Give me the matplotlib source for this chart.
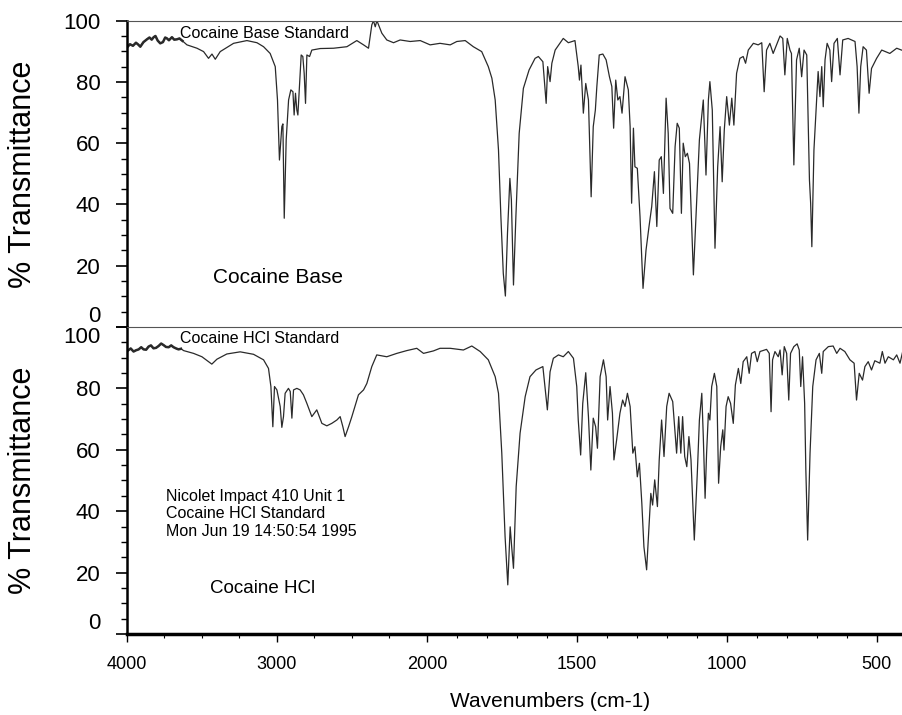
import numpy as np
import matplotlib.pyplot as plt

plt.rcParams['font.family'] = ['Liberation Sans', 'DejaVu Sans']

# spectra: wavenumber (cm-1), % transmittance
base_wn = [3995, 3980, 3960, 3940, 3925, 3911, 3890, 3867, 3850, 3835, 3822, 3810, 3795, 3778, 3760,
           3745, 3733, 3720, 3700, 3685, 3667, 3650, 3630, 3600, 3533, 3489, 3456, 3433, 3411, 3378,
           3289, 3200, 3133, 3089, 3045, 3011, 2996, 2983, 2967, 2960, 2951, 2938, 2922, 2907, 2893,
           2885, 2876, 2867, 2860, 2851, 2838, 2827, 2818, 2809, 2800, 2782, 2767, 2711, 2622, 2533,
           2467, 2422, 2389, 2367, 2356, 2344, 2333, 2300, 2267, 2222, 2178, 2111, 2044, 1989, 1956,
           1922, 1900, 1872, 1845, 1817, 1795, 1783, 1772, 1761, 1753, 1745, 1738, 1731, 1723, 1718,
           1711, 1703, 1692, 1678, 1659, 1639, 1628, 1613, 1602, 1597, 1589, 1583, 1572, 1545, 1528,
           1506, 1495, 1491, 1486, 1478, 1470, 1461, 1452, 1445, 1438, 1433, 1425, 1413, 1402, 1391,
           1383, 1377, 1370, 1363, 1356, 1349, 1339, 1328, 1322, 1317, 1311, 1306, 1298, 1289, 1279,
           1269, 1259, 1250, 1241, 1233, 1225, 1218, 1211, 1202, 1195, 1189, 1180, 1172, 1165, 1158,
           1151, 1145, 1138, 1131, 1124, 1111, 1100, 1091, 1078, 1069, 1061, 1056, 1048, 1039, 1030,
           1022, 1015, 1008, 1000, 991, 983, 976, 967, 956, 945, 937, 928, 911, 895, 883,
           875, 867, 856, 845, 836, 822, 813, 806, 798, 789, 784, 776, 767, 758, 750,
           742, 733, 724, 720, 716, 709, 700, 695, 689, 683, 678, 672, 665, 656, 650,
           642, 631, 622, 613, 595, 572, 565, 559, 553, 545, 534, 525, 517, 500, 483,
           456, 433, 417]
base_t = [91.5, 92.3, 91.8, 92.8, 92.2, 91.5, 93.0, 93.9, 94.5, 93.8, 94.6, 95.0, 93.5, 92.6, 93.0,
          94.5, 94.2, 93.6, 94.6, 93.8, 93.9, 94.2, 93.4, 92.1, 91.0, 89.9, 87.7, 89.1, 87.4, 89.9,
          92.6, 93.5, 92.8, 91.5, 89.3, 85.0, 74.1, 54.5, 65.4, 66.3, 35.5, 61.1, 74.1, 77.4, 76.8,
          69.2, 76.3, 70.8, 69.2, 77.4, 88.8, 88.3, 82.8, 73.0, 88.8, 88.3, 90.4, 90.9, 91.0, 91.5,
          93.5, 92.1, 91.0, 98.6, 100.0, 98.0, 100.0, 95.9, 93.7, 92.8, 93.7, 93.2, 93.5, 92.1, 92.6,
          92.1, 93.2, 93.5, 91.5, 89.9, 85.0, 81.2, 74.1, 57.8, 36.0, 17.5, 10.1, 30.6, 48.5, 41.5,
          13.7, 36.0, 63.2, 77.9, 83.9, 87.7, 88.3, 86.6, 73.0, 85.0, 80.1, 86.1, 90.4, 94.2, 92.8,
          93.5, 85.0, 80.6, 85.5, 69.8, 79.5, 74.1, 42.5, 65.4, 70.8, 78.5, 88.8, 89.1, 87.2, 81.7,
          78.5, 64.9, 80.6, 74.1, 75.2, 69.8, 81.7, 77.4, 65.4, 40.4, 64.9, 52.3, 51.8, 36.0, 12.6,
          25.1, 32.8, 39.3, 50.7, 32.8, 54.5, 55.6, 43.6, 74.7, 63.2, 38.7, 37.1, 58.9, 66.5, 64.9,
          37.1, 60.0, 55.6, 56.7, 53.4, 17.0, 41.5, 61.1, 74.1, 49.6, 74.1, 80.1, 70.8, 25.7, 52.3,
          65.4, 47.4, 64.3, 75.2, 65.9, 74.7, 65.9, 82.8, 87.7, 88.3, 86.1, 90.4, 92.6, 92.1, 92.8,
          76.8, 90.4, 92.6, 89.3, 91.5, 95.0, 94.2, 82.3, 94.2, 90.4, 89.3, 52.9, 87.2, 91.0, 81.7,
          90.4, 88.8, 48.0, 40.4, 26.2, 57.8, 74.1, 83.4, 75.2, 85.0, 71.9, 87.2, 92.6, 90.4, 80.1,
          92.6, 94.2, 82.3, 93.7, 94.2, 93.2, 85.0, 69.8, 85.0, 91.5, 90.4, 76.3, 84.4, 87.7, 90.4,
          89.3, 91.0, 90.4]

hcl_wn = [3994, 3975, 3956, 3940, 3922, 3905, 3889, 3872, 3856, 3840, 3823, 3806, 3789, 3772, 3756,
          3740, 3722, 3705, 3689, 3672, 3656, 3640, 3622, 3556, 3500, 3456, 3434, 3400, 3334, 3245,
          3156, 3089, 3056, 3040, 3027, 3016, 3000, 2978, 2967, 2956, 2945, 2923, 2911, 2900, 2889,
          2867, 2845, 2823, 2800, 2767, 2734, 2700, 2667, 2634, 2600, 2578, 2560, 2545, 2522, 2500,
          2456, 2422, 2400, 2367, 2334, 2267, 2200, 2134, 2067, 2022, 1978, 1956, 1922, 1878, 1850,
          1822, 1795, 1772, 1761, 1750, 1739, 1730, 1722, 1717, 1711, 1702, 1689, 1672, 1656, 1636,
          1613, 1606, 1598, 1589, 1578, 1561, 1545, 1528, 1511, 1500, 1495, 1487, 1480, 1470, 1461,
          1453, 1445, 1437, 1431, 1422, 1411, 1402, 1397, 1389, 1381, 1376, 1367, 1356, 1347, 1339,
          1331, 1322, 1313, 1306, 1298, 1291, 1283, 1276, 1267, 1259, 1253, 1247, 1240, 1231, 1225,
          1217, 1209, 1200, 1192, 1180, 1172, 1167, 1160, 1153, 1147, 1140, 1133, 1126, 1119, 1108,
          1098, 1091, 1083, 1078, 1072, 1067, 1061, 1056, 1050, 1041, 1033, 1027, 1020, 1013, 1009,
          1002, 995, 987, 978, 971, 961, 953, 945, 933, 925, 917, 906, 898, 889, 867,
          858, 852, 847, 839, 828, 822, 815, 808, 800, 793, 787, 776, 765, 758, 753,
          747, 740, 736, 730, 722, 713, 702, 691, 683, 678, 661, 645, 633, 622, 606,
          589, 575, 567, 558, 547, 539, 528, 517, 506, 489, 481, 472, 461, 444, 433,
          422, 413]
hcl_t = [92.3, 93.0, 92.0, 92.4, 92.7, 93.4, 92.7, 92.6, 93.6, 94.0, 93.05, 93.2, 93.8, 94.6, 94.1,
         93.5, 93.4, 94.0, 93.4, 93.0, 92.7, 92.9, 92.3, 91.4, 90.3, 88.7, 87.9, 89.5, 91.2, 91.9,
         91.1, 89.3, 86.5, 80.6, 67.5, 80.6, 79.5, 74.1, 67.3, 70.8, 78.4, 80.0, 79.0, 70.3, 79.5,
         80.0, 79.5, 77.9, 75.1, 70.8, 73.0, 68.6, 67.8, 68.6, 69.7, 70.8, 67.5, 64.3, 67.5, 70.8,
         77.9, 79.5, 81.6, 87.1, 90.9, 90.3, 91.4, 92.3, 93.05, 91.4, 92.2, 93.05, 93.05, 92.5, 93.8,
         92.0, 89.3, 83.8, 78.4, 58.9, 31.7, 16.0, 34.9, 28.4, 21.4, 48.0, 65.4, 77.3, 83.8, 86.0,
         87.1, 80.6, 73.0, 85.4, 89.8, 90.9, 90.3, 92.0, 89.8, 80.6, 69.7, 58.3, 75.1, 85.1, 70.8,
         53.4, 70.3, 67.5, 60.5, 83.8, 89.3, 83.8, 69.7, 80.6, 71.9, 56.7, 63.2, 71.9, 76.2, 74.1,
         78.4, 74.1, 58.9, 61.0, 51.2, 55.6, 42.6, 28.4, 20.9, 34.9, 45.8, 42.0, 50.2, 41.5, 56.7,
         69.7, 57.8, 74.1, 78.4, 75.7, 65.4, 58.9, 70.8, 58.9, 70.8, 57.8, 54.5, 64.3, 56.7, 30.6,
         52.3, 69.7, 78.4, 64.3, 44.2, 58.9, 71.9, 69.7, 80.6, 84.9, 80.6, 49.1, 61.0, 66.5, 59.9,
         74.1, 77.3, 75.1, 68.6, 81.1, 86.5, 81.6, 88.7, 90.3, 84.9, 91.4, 92.0, 88.7, 92.0, 92.7,
         91.4, 72.4, 89.3, 92.0, 90.3, 92.5, 84.4, 93.6, 91.4, 76.2, 91.4, 93.6, 94.5, 92.5, 80.6,
         90.3, 75.1, 53.4, 30.6, 58.9, 80.6, 89.3, 91.4, 84.9, 92.0, 93.6, 93.8, 91.4, 93.05, 92.0,
         89.3, 88.2, 76.2, 84.9, 82.7, 87.1, 88.7, 86.0, 89.0, 88.2, 92.0, 88.2, 90.3, 89.3, 90.9,
         88.2, 92.0]

x_major = [4000, 3000, 2000, 1500, 1000, 500]
x_minor = [3750, 3500, 3250, 2750, 2500, 2250,
           1900, 1800, 1700, 1600, 1400, 1300, 1200, 1100, 900, 800, 700, 600]
y_major = [0, 20, 40, 60, 80, 100]
y_minor = [5, 10, 15, 25, 30, 35, 45, 50, 55, 65, 70, 75, 85, 90, 95]


# spectrometer axis: scale doubles below 2000 cm-1
def fwd(w):
    w = np.asarray(w, dtype=float)
    return np.where(w > 2000, 2000 + (w - 2000) / 2, w)


def inv(u):
    u = np.asarray(u, dtype=float)
    return np.where(u > 2000, 2000 + (u - 2000) * 2, u)


fig = plt.figure(figsize=(9.03, 7.15), dpi=100)
ax_1 = fig.add_axes([0.1406, 0.5427, 0.8594, 0.4284])
ax_2 = fig.add_axes([0.1406, 0.1133, 0.8594, 0.4294])

line_col = '#2a2a2a'
ax_1.plot(base_wn, base_t, color=line_col, lw=0.9)
ax_2.plot(hcl_wn, hcl_t, color=line_col, lw=0.9)
# noisy high-wavenumber end is drawn heavier in the scan
ax_1.plot(base_wn[:23], base_t[:23], color=line_col, lw=1.8)
ax_2.plot(hcl_wn[:22], hcl_t[:22], color=line_col, lw=1.8)

for ax in (ax_1, ax_2):
    ax.set_xscale('function', functions=(fwd, inv))
    ax.set_xlim(4000, 412)
    ax.set_ylim(0, 100)
    ax.set_xticks(x_major)
    ax.set_xticks(x_minor, minor=True)
    ax.set_yticks(y_major)
    ax.set_yticks(y_minor, minor=True)
    ax.spines['right'].set_visible(False)
    ax.spines['left'].set_linewidth(1.8)
    ax.spines['top'].set_linewidth(0.8)
    ax.spines['top'].set_color('#555555')
    ax.tick_params(axis='y', which='major', direction='out', length=8, width=1.2,
                   labelsize=16, pad=11)
    ax.tick_params(axis='y', which='minor', direction='out', length=4.5, width=1.0)
    ax.set_ylabel('% Transmittance', fontsize=22)
    ax.yaxis.set_label_coords(-0.115, 0.5)

ax_1.spines['bottom'].set_visible(False)
ax_1.tick_params(axis='x', which='both', bottom=False, labelbottom=False)

ax_2.spines['bottom'].set_linewidth(2.5)
ax_2.set_xticklabels([str(v) for v in x_major])
ax_2.tick_params(axis='x', which='major', direction='out', length=6, width=1.0,
                 labelsize=13, pad=10)
ax_2.tick_params(axis='x', which='minor', direction='out', length=3, width=0.8)
ax_2.set_xlabel('Wavenumbers (cm-1)', fontsize=15)
ax_2.xaxis.set_label_coords(0.545, -0.19)

# keep the 0 / 100 labels apart where the panels meet
ax_1.get_yticklabels()[0].set_va('bottom')
lbls = ax_2.get_yticklabels()
lbls[0].set_va('bottom')
lbls[-1].set_va('top')

ax_1.text(0.068, 0.959, 'Cocaine Base Standard', transform=ax_1.transAxes,
          fontsize=11.5, va='center', ha='left')
ax_1.text(0.111, 0.163, 'Cocaine Base', transform=ax_1.transAxes,
          fontsize=15, va='center', ha='left')
ax_2.text(0.068, 0.961, 'Cocaine HCl Standard', transform=ax_2.transAxes,
          fontsize=11.5, va='center', ha='left')
ax_2.text(0.05, 0.391, 'Nicolet Impact 410 Unit 1\nCocaine HCl Standard\nMon Jun 19 14:50:54 1995',
          transform=ax_2.transAxes, fontsize=11.5, va='center', ha='left', linespacing=1.2)
ax_2.text(0.107, 0.147, 'Cocaine HCl', transform=ax_2.transAxes,
          fontsize=13.5, va='center', ha='left')

plt.savefig('out.png', dpi=100)
